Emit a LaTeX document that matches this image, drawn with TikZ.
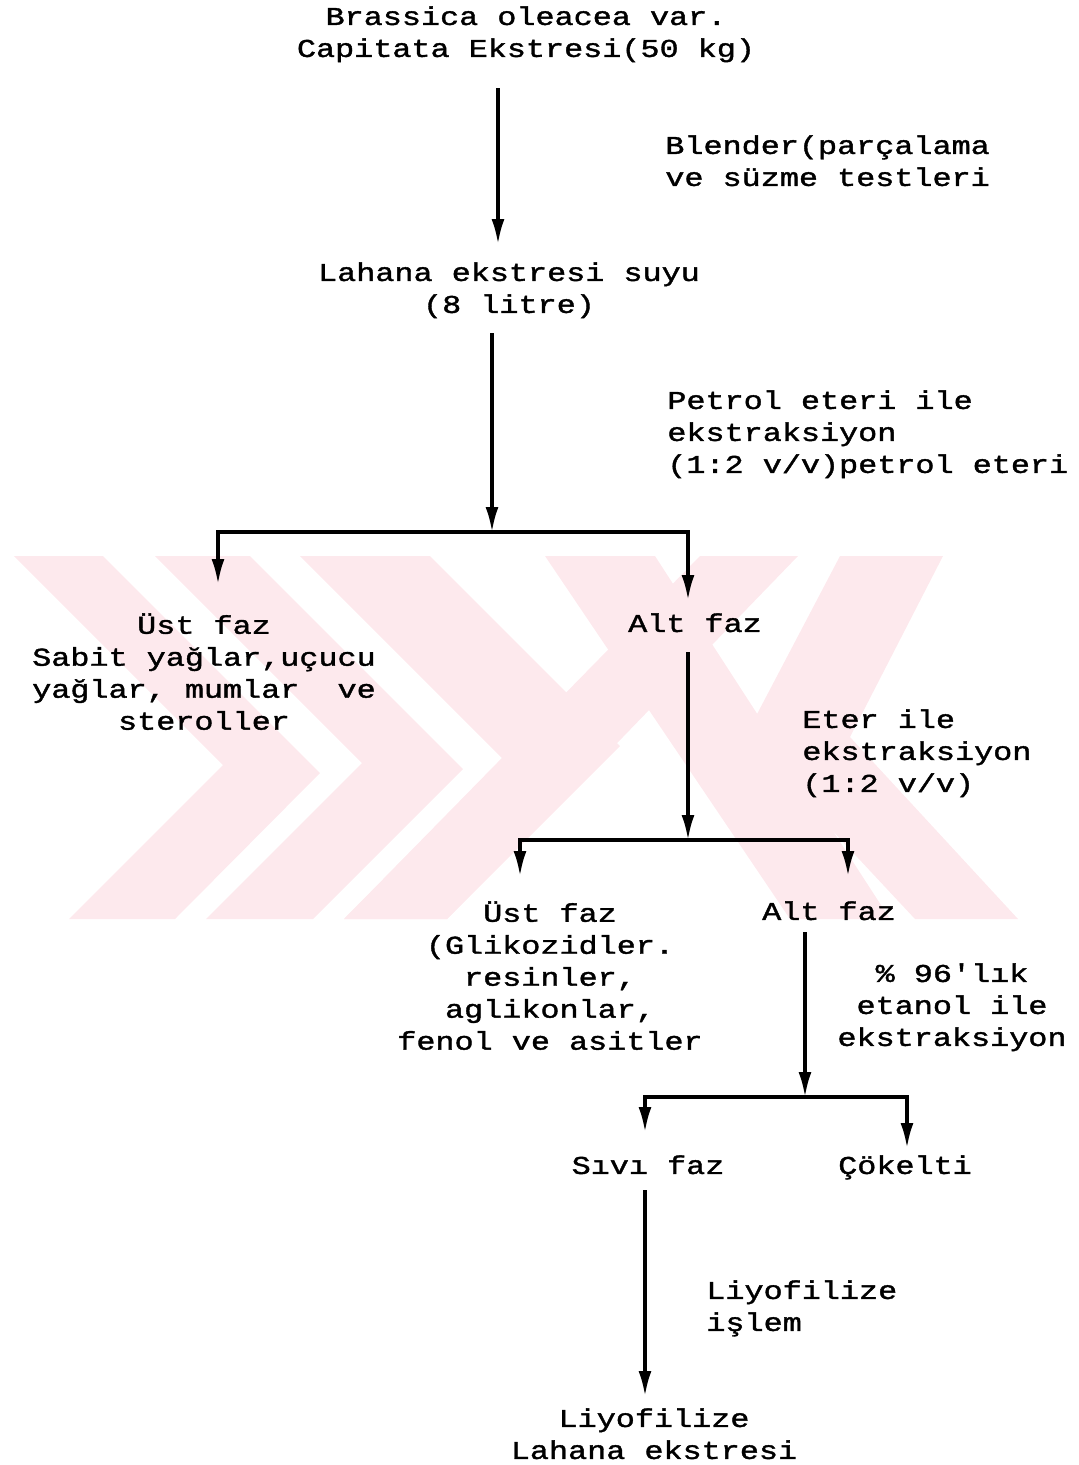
\documentclass[tikz,border=0pt]{standalone}
\usepackage{fontspec}
\setmonofont[FakeStretch=1.24,FakeBold=1.5]{Liberation Mono}
\usetikzlibrary{arrows.meta}
\definecolor{wmpink}{RGB}{253,233,237}
\tikzset{%
  myflow/.style={-{Latex[length=0.5cm,width=0.26cm]}, line width=1.8pt},
  mysplit/.style={{Latex[length=0.5cm,width=0.26cm]}-{Latex[length=0.5cm,width=0.26cm]}, line width=1.8pt},
  mytext/.style={font=\ttfamily\fontsize{14.6}{18.2}\selectfont, align=center, inner sep=0pt, anchor=north},
  mynote/.style={mytext, align=left, anchor=north west}
}
\begin{document}
\begin{tikzpicture}[x=0.02cm, y=-0.02cm]
\useasboundingbox (0,0) rectangle (1079,1465);

% filigran
\begin{scope}
\clip (0,556) rectangle (1079,919);
\fill [wmpink] (14,556) -- (103,556) -- (320,773) -- (175,919) -- (69,919) -- (223,765) -- cycle;
\fill [wmpink] (155,556) -- (250,556) -- (463,769) -- (313,919) -- (206,919) -- (362,763) -- cycle;
\fill [wmpink] (300,556) -- (430,556) -- (620,746) -- (447,919) -- (344,919) -- (503,759) -- cycle;
\fill [wmpink] (545,556) -- (655,556) -- (890,919) -- (790,919) -- cycle;
\fill [wmpink] (700,556) -- (798,556) -- (447,919) -- (344,919) -- cycle;
\fill [wmpink] (840,556) -- (943,556) -- (850,737) -- (1018,919) -- (915,919) -- (745,737) -- cycle;
\end{scope}

\node (kaynak) [mytext] at (526,6) {Brassica oleacea var.\\Capitata Ekstresi(50 kg)};
\node (blender) [mynote] at (665,135) {Blender(parçalama\\ve süzme testleri};
\node (suyu) [mytext] at (509,262) {Lahana ekstresi suyu\\(8 litre)};
\node (petrol) [mynote] at (667,390) {Petrol eteri ile\\ekstraksiyon\\(1:2 v/v)petrol eteri};
\node (ustA) [mytext] at (204,613) {Üst faz\\Sabit yağlar,uçucu\\yağlar, mumlar\ \ ve\\steroller};
\node (altA) [mytext] at (695,613) {Alt faz};
\node (eter) [mynote] at (802,709) {Eter ile\\ekstraksiyon\\(1:2 v/v)};
\node (ustB) [mytext] at (550,901) {Üst faz\\(Glikozidler.\\resinler,\\aglikonlar,\\fenol ve asitler};
\node (altB) [mytext] at (829,901) {Alt faz};
\node (etanol) [mytext] at (952,963) {\% 96'lık\\etanol ile\\ekstraksiyon};
\node (sivi) [mytext] at (648,1155) {Sıvı faz};
\node (cokelti) [mytext] at (905,1155) {Çökelti};
\node (liyo) [mynote] at (706,1280) {Liyofilize\\işlem};
\node (son) [mytext] at (654,1408) {Liyofilize\\Lahana ekstresi};

\coordinate (a1) at (498,88);
\coordinate (a1e) at (498,244);
\coordinate (a2) at (492,333);
\coordinate (j1) at (492,532);
\coordinate (j1l) at (218,532);
\coordinate (j1r) at (688,532);
\coordinate (ustAin) at (218,584);
\coordinate (altAin) at (688,600);
\coordinate (a3) at (688,652);
\coordinate (j2) at (688,840);
\coordinate (j2l) at (520,840);
\coordinate (j2r) at (848,840);
\coordinate (ustBin) at (520,876);
\coordinate (altBin) at (848,876);
\coordinate (a4) at (805,932);
\coordinate (j3) at (805,1097);
\coordinate (j3l) at (645,1097);
\coordinate (j3r) at (907,1097);
\coordinate (siviin) at (645,1132);
\coordinate (cokin) at (907,1148);
\coordinate (a5) at (645,1190);
\coordinate (sonin) at (645,1396);

\draw [myflow] (a1) -- (a1e);
\draw [myflow] (a2) -- (j1);
\draw [mysplit] (ustAin) -- (j1l) -- (j1r) -- (altAin);
\draw [myflow] (a3) -- (j2);
\draw [mysplit] (ustBin) -- (j2l) -- (j2r) -- (altBin);
\draw [myflow] (a4) -- (j3);
\draw [mysplit] (siviin) -- (j3l) -- (j3r) -- (cokin);
\draw [myflow] (a5) -- (sonin);
\end{tikzpicture}
\end{document}
